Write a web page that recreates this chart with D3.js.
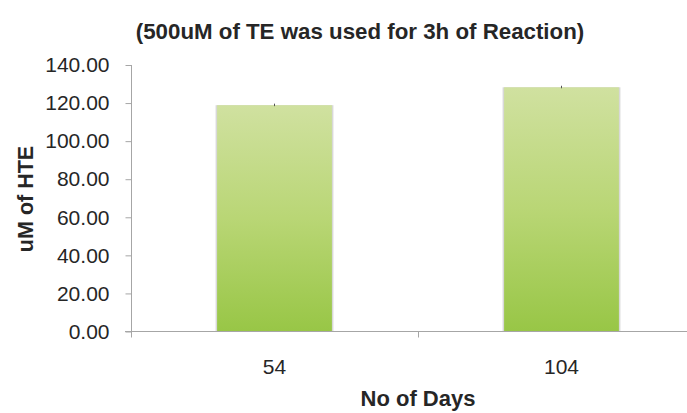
<!DOCTYPE html>
<html lang="en">
<head>
<meta charset="utf-8">
<title>uM of HTE by No of Days</title>
<style>
body { margin: 0; background: #fff; }
text { font-family: "Liberation Sans", Arial, sans-serif; fill: #262626; }
.title { font-size: 22.3px; font-weight: bold; }
.axis-title { font-size: 22px; font-weight: bold; }
.ylab { font-size: 21.5px; font-weight: bold; }
.tick-label { font-size: 21px; }
</style>
</head>
<body>
<div id="chart"></div>
<script src="https://d3js.org/d3.v7.min.js"></script>
<script>

const days = ["54", "104"];
const hte = [118.9, 128.3];
const yTicks = [0, 20, 40, 60, 80, 100, 120, 140];

const width = 687, height = 413;
const margin = { top: 65, right: -18, bottom: 82, left: 131 };

const svg = d3.select("#chart")
    .append("svg")
    .attr("width", width)
    .attr("height", height);

const defs = svg.append("defs");
const grad = defs.append("linearGradient")
    .attr("id", "barGrad")
    .attr("x1", 0).attr("y1", 0).attr("x2", 0).attr("y2", 1);
grad.append("stop").attr("offset", "0%").attr("stop-color", "#d0e1a0");
grad.append("stop").attr("offset", "50%").attr("stop-color", "#b9d675");
grad.append("stop").attr("offset", "100%").attr("stop-color", "#98c646");

const x0 = margin.left, x1 = width - margin.right;
const y = d3.scaleLinear().domain([0, 140]).range([height - margin.bottom + 0.5, margin.top]);

// category slots (ticks between) and the bars inside them
const xCat = d3.scaleBand().domain(days).range([x0, x1]).padding(0);
const xBar = d3.scaleBand().domain(days).range([x0, x1])
    .paddingInner(0.6).paddingOuter(0.3);

// bars, with a soft grey edge like the original
const bars = svg.append("g");
days.forEach(function(d, i) {
  bars.append("rect")
      .attr("x", xBar(d) - 1.5)
      .attr("y", y(hte[i]))
      .attr("width", xBar.bandwidth() + 3)
      .attr("height", y(0) - y(hte[i]))
      .attr("fill", "#d8d8d8");
  bars.append("rect")
      .attr("x", xBar(d))
      .attr("y", y(hte[i]))
      .attr("width", xBar.bandwidth())
      .attr("height", y(0) - y(hte[i]))
      .attr("fill", "url(#barGrad)");
  // tiny error bar cap
  bars.append("line")
      .attr("x1", xBar(d) + xBar.bandwidth() / 2)
      .attr("x2", xBar(d) + xBar.bandwidth() / 2)
      .attr("y1", y(hte[i]) - 1.5)
      .attr("y2", y(hte[i]) + 1)
      .attr("stroke", "#555");
});

// y axis
const yAxis = svg.append("g")
    .attr("transform", "translate(" + (x0 + 0.5) + ",0)")
    .call(d3.axisLeft(y).tickValues(yTicks).tickSize(6).tickPadding(16)
      .tickFormat(d3.format(".2f")));
yAxis.select(".domain").attr("stroke", "#a6a6a6").attr("d", "M0," + y(140) + "V" + y(0));
yAxis.selectAll(".tick line").attr("stroke", "#a6a6a6");
yAxis.selectAll(".tick text").attr("class", "tick-label").attr("fill", "#262626");

// x axis
const xAxis = svg.append("g").attr("transform", "translate(0," + y(0) + ")");
xAxis.append("line")
    .attr("x1", x0 - 6).attr("x2", x1)
    .attr("stroke", "#a6a6a6");
xAxis.selectAll(".sep")
    .data([x0].concat(days.map(function(d) { return xCat(d) + xCat.bandwidth(); })))
    .enter().append("line")
    .attr("x1", function(d) { return Math.round(d) + 0.5; })
    .attr("x2", function(d) { return Math.round(d) + 0.5; })
    .attr("y1", 0).attr("y2", 6)
    .attr("stroke", "#a6a6a6");
xAxis.selectAll(".lbl")
    .data(days)
    .enter().append("text")
    .attr("class", "tick-label")
    .attr("x", function(d) { return xCat(d) + xCat.bandwidth() / 2; })
    .attr("y", 42)
    .attr("text-anchor", "middle")
    .text(function(d) { return d; });

// titles
svg.append("text")
    .attr("class", "title")
    .attr("x", 360).attr("y", 39)
    .attr("text-anchor", "middle")
    .text("(500uM of TE was used for 3h of Reaction)");

svg.append("text")
    .attr("class", "axis-title")
    .attr("x", 418).attr("y", 406)
    .attr("text-anchor", "middle")
    .text("No of Days");

svg.append("text")
    .attr("class", "ylab")
    .attr("transform", "translate(33,199) rotate(-90)")
    .attr("text-anchor", "middle")
    .text("uM of HTE");

</script>
</body>
</html>
